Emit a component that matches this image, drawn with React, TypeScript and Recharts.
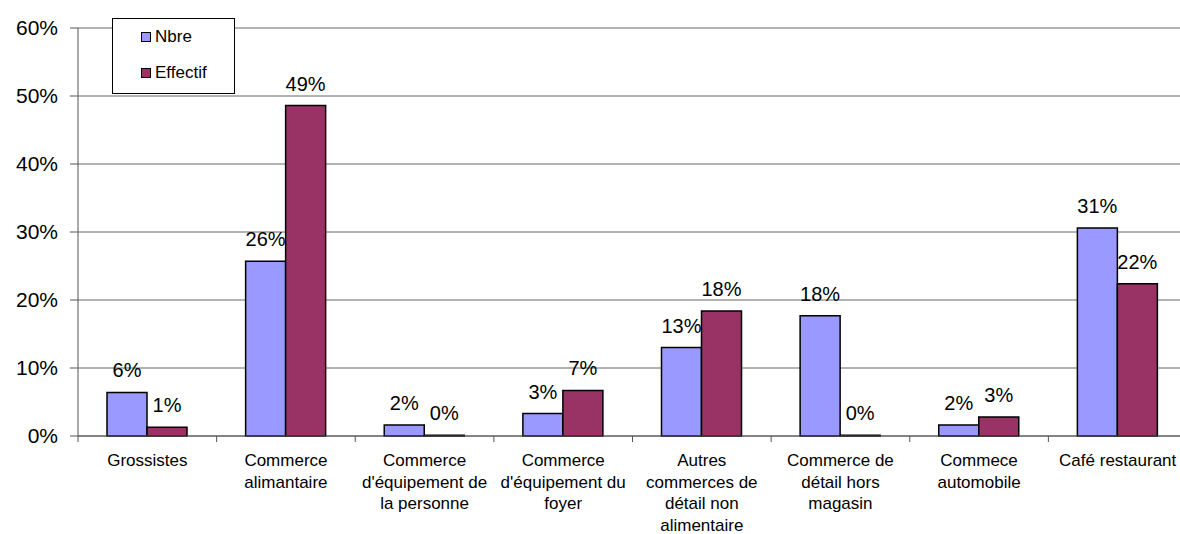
import React from 'react'
import { BarChart, Bar, XAxis, YAxis, CartesianGrid, Legend, LabelList } from 'recharts'

const categories = [
  'Grossistes',
  'Commerce\nalimantaire',
  "Commerce\nd'équipement de\nla personne",
  "Commerce\nd'équipement du\nfoyer",
  'Autres\ncommerces de\ndétail non\nalimentaire',
  'Commerce de\ndétail hors\nmagasin',
  'Commece\nautomobile',
  'Café restaurant',
]
const nbre = [6.4, 25.7, 1.6, 3.3, 13.0, 17.7, 1.6, 30.6]
const effectif = [1.3, 48.6, 0.1, 6.7, 18.4, 0.1, 2.8, 22.4]
const yTicks = [0, 10, 20, 30, 40, 50, 60]

const data = categories.map((name, i) => ({ name, nbre: nbre[i], effectif: effectif[i] }))

const W = 1190
const H = 540
const LEFT = 78
const RIGHT = 3
const BAND = (W - LEFT - RIGHT) / categories.length
const FONT = '"Liberation Sans", Arial, sans-serif'

const CategoryTick = (props: any) => {
  const { x, y, payload, index } = props
  const lines = String(payload.value).split('\n')
  return (
    <g>
      <line x1={x - BAND / 2} y1={y - 8} x2={x - BAND / 2} y2={y - 2} stroke="#555" />
      {index === categories.length - 1 && (
        <line x1={x + BAND / 2} y1={y - 8} x2={x + BAND / 2} y2={y - 2} stroke="#555" />
      )}
      <text x={x} y={y} textAnchor="middle" fontSize={17} fill="#000" fontFamily={FONT}>
        {lines.map((l, i) => (
          <tspan key={i} x={x} dy={i === 0 ? 22 : 21.5}>{l}</tspan>
        ))}
      </text>
    </g>
  )
}

const LegendBox = () => (
  <div style={{ position: 'absolute', left: 0, top: 0, width: 121, height: 74, border: '1px solid #000', background: '#fff', fontFamily: FONT, fontSize: 17 }}>
    <div style={{ position: 'absolute', left: 28, top: 8, display: 'flex', alignItems: 'center' }}>
      <span style={{ width: 8, height: 8, background: '#9999ff', border: '1px solid #000', marginRight: 4 }} />
      <span>Nbre</span>
    </div>
    <div style={{ position: 'absolute', left: 28, top: 44, display: 'flex', alignItems: 'center' }}>
      <span style={{ width: 8, height: 8, background: '#993366', border: '1px solid #000', marginRight: 4 }} />
      <span>Effectif</span>
    </div>
  </div>
)

const fmt = (v: any) => `${Math.round(Number(v))}%`

export default function App() {
  return (
    <div style={{ position: 'absolute', left: 0, top: 0, width: 1180, height: 534, overflow: 'hidden', background: '#fff' }}>
      <BarChart
        width={W}
        height={H}
        data={data}
        margin={{ top: 28, right: RIGHT, left: 0, bottom: 0 }}
        barCategoryGap={29}
        barGap={0}
      >
        <CartesianGrid vertical={false} stroke="#666" />
        <XAxis
          dataKey="name"
          interval={0}
          height={104}
          stroke="#555"
          tickLine={false}
          tick={<CategoryTick />}
        />
        <YAxis
          width={LEFT}
          domain={[0, 60]}
          ticks={yTicks}
          tickFormatter={(v) => `${v}%`}
          stroke="#555"
          tickSize={8}
          tickMargin={12}
          tick={{ fill: '#000', fontSize: 21, fontFamily: FONT }}
        />
        <Legend
          content={<LegendBox />}
          wrapperStyle={{ left: 112, top: 18, width: 0, height: 0, overflow: 'visible' }}
        />
        <Bar dataKey="nbre" name="Nbre" fill="#9999ff" stroke="#000" strokeWidth={1.5} isAnimationActive={false}>
          <LabelList dataKey="nbre" position="top" offset={15} formatter={fmt} fill="#000" fontSize={20} fontFamily={FONT} />
        </Bar>
        <Bar dataKey="effectif" name="Effectif" fill="#993366" stroke="#000" strokeWidth={1.5} isAnimationActive={false}>
          <LabelList dataKey="effectif" position="top" offset={15} formatter={fmt} fill="#000" fontSize={20} fontFamily={FONT} />
        </Bar>
      </BarChart>
    </div>
  )
}
